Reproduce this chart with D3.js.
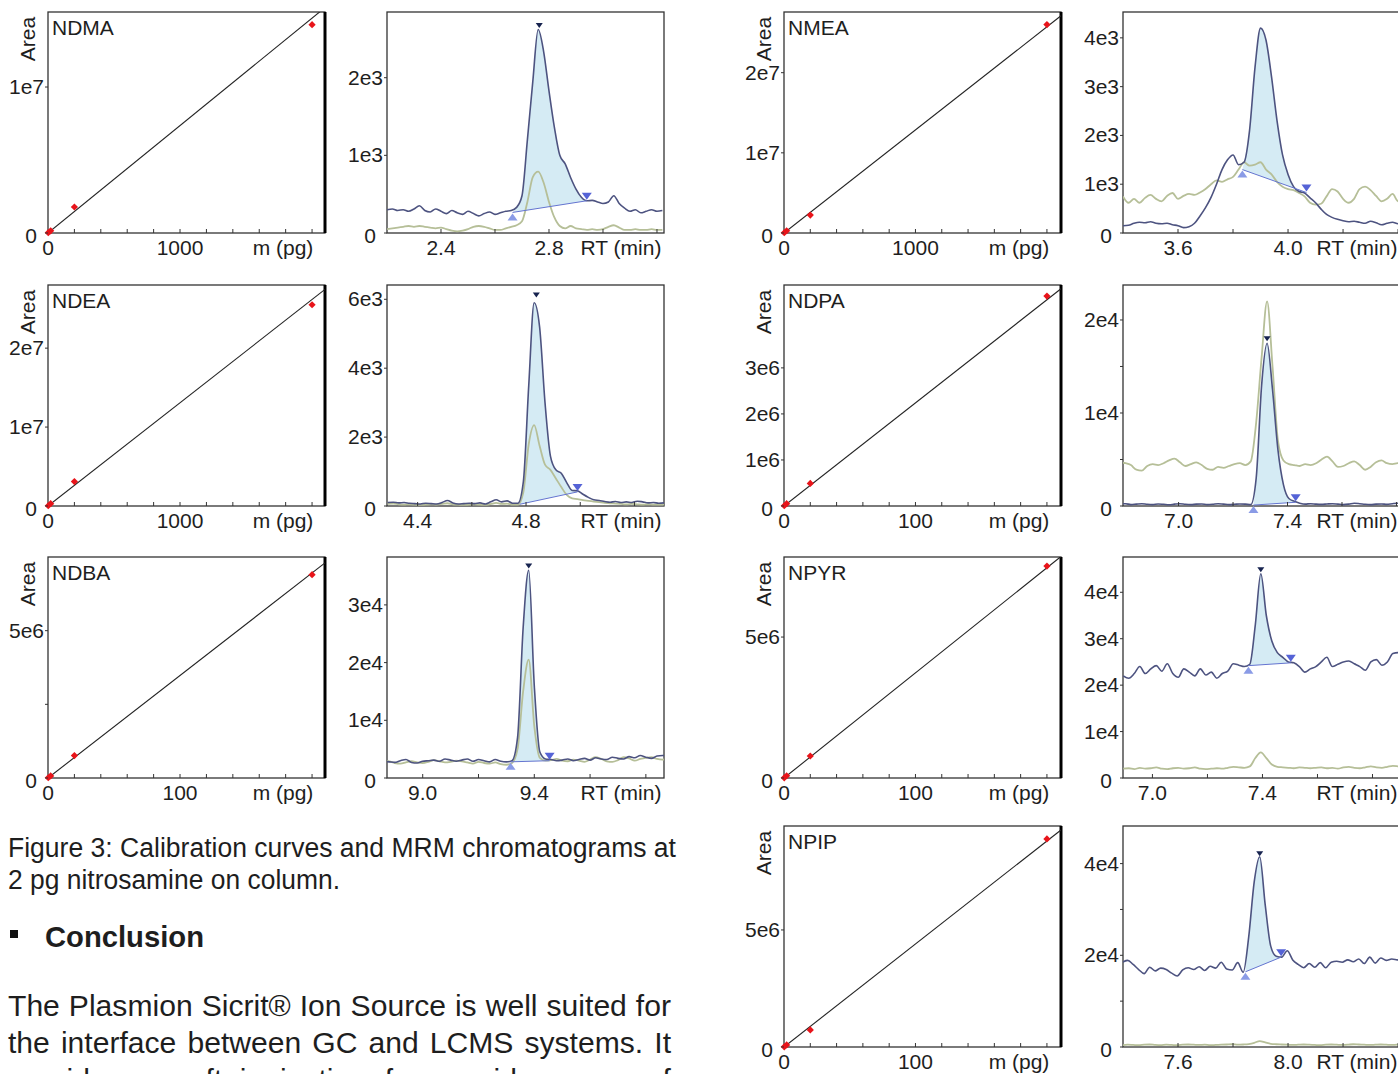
<!DOCTYPE html>
<html>
<head>
<meta charset="utf-8">
<script src="https://cdn.jsdelivr.net/npm/d3@7"></script>
<style>
  body { margin: 0; background: #fff; }
  svg text { font-family: "Liberation Sans", Arial, sans-serif; fill: #1e1e1e; }
</style>
</head>
<body>
<svg id="fig" width="1398" height="1074"></svg>
<script>
// ---- calibration curves ----
var names = ["NDMA", "NDEA", "NDBA", "NMEA", "NDPA", "NPYR", "NPIP"];
var calMass = [[2, 20, 200, 2000], [2, 20, 200, 2000], [0.2, 2, 20, 200], [2, 20, 200, 2000],
               [0.2, 2, 20, 200], [0.2, 2, 20, 200], [0.2, 2, 20, 200]];
var calArea = [[2.5e4, 1.5e5, 1.78e6, 1.427e7], [3e4, 3e5, 3.1e6, 2.55e7], [8e3, 7e4, 7.6e5, 6.9e6],
               [3e4, 2.8e5, 2.24e6, 2.6e7], [5e3, 5e4, 4.9e5, 4.56e6], [8e3, 8e4, 7.8e5, 7.52e6],
               [9e3, 9e4, 7.3e5, 8.89e6]];
var fitSlope = [7360, 13080, 34790, 12860, 22400, 37300, 44000];
var calXMax = [2098, 2098, 209.8, 2107, 210.7, 210.7, 210.7];
var calXStep = [200, 200, 20, 200, 20, 20, 20];
var calXLabels = [[0, 1000], [0, 1000], [0, 100], [0, 1000], [0, 100], [0, 100], [0, 100]];
var calYMax = [1.514e7, 2.80e7, 7.50e6, 2.757e7, 4.8e6, 7.84e6, 9.44e6];
var calYTicks = [[0, 1e7], [0, 1e7, 2e7], [0, 5e6], [0, 1e7, 2e7], [0, 1e6, 2e6, 3e6], [0, 5e6], [0, 5e6]];
var calYMinor = [[], [], [2.5e6], [], [], [], []];

// ---- MRM chromatograms ----
var rtStart = [2.2, 4.287, 8.872, 3.4, 6.796, 6.893, 7.4];
var rtEnd = [3.226, 5.309, 9.865, 4.407, 7.813, 7.9, 8.407];
var rtLabels = [[2.4, 2.8], [4.4, 4.8], [9.0, 9.4], [3.6, 4.0], [7.0, 7.4], [7.0, 7.4], [7.6, 8.0]];
var rtMinor = [[2.6, 3.0, 3.2], [4.6, 5.0, 5.2], [9.2, 9.6, 9.8], [3.8, 4.2, 4.4],
               [7.2, 7.6, 7.8], [7.2, 7.6, 7.8], [7.8, 8.2, 8.4]];
var chromYMax = [2846, 6415, 38300, 4530, 23760, 47600, 48200];
var chromYTicks = [[0, 1e3, 2e3], [0, 2e3, 4e3, 6e3], [0, 1e4, 2e4, 3e4], [0, 1e3, 2e3, 3e3, 4e3],
                   [0, 1e4, 2e4], [0, 1e4, 2e4, 3e4, 4e4], [0, 2e4, 4e4]];
var chromYMinor = [[], [], [], [], [5e3, 1.5e4], [], [1e4, 3e4]];

// sampling of the traces: first retention time, 0.02 min apart
var sampleT0 = [2.20, 4.29, 8.86, 3.40, 6.785, 6.894, 7.397];
var sampleStep = 0.02;

// quantifier transition (dark blue trace)
var quantTrace = [
  [300,310,290,300,280,310,350,290,270,310,280,250,290,260,240,280,250,220,250,270,240,260,280,290,330,480,1200,1950,2620,2340,1830,1360,1000,890,715,565,460,415,420,400,380,400,480,380,320,280,300,260,280,300,280,290],
  [100,110,90,100,80,70,60,80,70,60,100,160,90,60,70,80,70,90,60,120,180,120,150,80,80,700,3500,5900,5200,3000,1450,1050,950,680,450,440,340,250,180,160,130,110,130,100,120,100,140,120,90,100,80,90],
  [2900,2800,2700,3000,3200,2700,2600,2900,3000,3100,2900,3300,3100,2900,3100,3300,2900,3200,3000,2800,3200,2900,2800,3000,7000,26000,36000,16000,4500,3300,3200,3000,3100,3300,3000,3200,3400,3100,3500,3300,3200,3600,3400,3300,3700,3500,3900,3600,3400,3800,3900,3700],
  [150,160,200,220,210,230,200,190,200,170,150,110,130,200,350,520,730,1000,1300,1500,1600,1400,1450,2100,3400,4200,3950,3200,2300,1600,1200,950,850,820,720,620,490,380,320,280,250,230,240,220,200,240,210,170,200,220,190,200],
  [200,250,150,200,250,180,150,220,180,130,200,250,180,150,200,220,150,180,250,200,150,180,220,200,150,3000,13000,17500,12500,6000,2300,800,500,300,200,250,200,180,220,250,200,150,200,300,250,180,150,200,220,180,250,300,250],
  [22000,21500,22500,24000,22500,23500,24200,23000,24600,22500,21700,23500,22800,22000,23500,22200,22800,21500,22500,23000,24600,24300,24000,24500,33000,44000,35000,29500,27000,26000,25000,24800,24000,22800,23500,24000,25000,26000,24000,24500,25000,25200,24600,24000,23200,25000,25500,24300,25000,26800,27000,26000],
  [18500,18900,18000,16900,16000,17400,16600,17200,16900,16100,15500,16800,17300,16900,17500,16700,17600,17200,18500,17000,16800,18400,16300,24000,36000,41500,31000,22000,19800,19600,21000,19000,18000,17300,18200,17400,18400,17300,18500,18700,18500,19000,18600,19200,18200,19600,18300,19400,18900,19200,19000,18900]
];

// qualifier transition (pale green trace)
var qualTrace = [
  [50,60,70,80,90,80,90,80,70,60,70,50,30,20,30,50,80,90,80,60,40,40,60,80,100,150,400,720,790,650,400,200,90,60,90,60,50,40,50,40,50,80,100,70,40,40,50,40,40,50,40,40],
  [60,70,50,40,50,40,30,40,50,40,60,80,50,40,30,40,50,40,30,60,90,60,70,40,40,400,1800,2350,1750,1200,1050,800,550,320,220,200,170,150,130,110,90,80,70,60,50,60,50,40,50,40,40,40],
  [3000,2900,2600,2500,2700,2900,2700,2600,2800,3100,2900,2700,2800,3000,2900,2700,2500,2800,2600,2500,2700,2400,2300,2600,5000,15000,20500,9000,3500,3000,3100,3300,3000,2900,3200,3000,2800,3200,3600,3300,2900,2800,3100,3600,3400,3000,3300,3500,3600,3300,3200,3300],
  [750,620,700,620,720,780,700,650,760,820,700,760,800,780,830,900,1000,1080,1050,1100,1150,1300,1450,1380,1400,1450,1300,1200,1050,950,900,880,820,750,620,580,600,750,900,850,700,620,700,900,950,880,760,650,700,800,650,700],
  [4700,4600,4400,3900,3800,4300,4500,4400,4600,4900,5100,4700,4300,4500,4700,4400,4000,3900,4200,4100,4300,4500,4600,4400,4800,9000,16000,22000,15000,7000,4900,4500,4400,4300,4500,4400,4600,5000,5300,4800,4200,4300,4600,4800,4400,3900,4200,4700,4900,4600,4500,4600,4500],
  [2000,2100,1900,2200,2000,2100,2300,2000,1900,2100,2200,2000,2100,2300,2000,1900,2000,2100,2000,2200,2400,2300,2200,2500,4300,5500,4300,2900,2400,2300,2200,2100,2300,2200,2100,2200,2300,2100,2200,2000,2300,2400,2200,2100,2300,2500,2300,2200,2400,2600,2500,2400],
  [400,500,450,400,500,550,450,400,500,450,400,500,550,500,450,500,400,450,500,550,600,500,550,650,900,1300,1000,700,600,550,500,450,500,550,500,450,400,500,550,500,450,500,600,550,500,450,500,550,500,450,500,500]
];

// peak integration: [RT, intensity] of baseline start / end, and the apex
var integStart = [[2.665, 265], [4.777, 50], [9.315, 2800], [3.834, 1300], [7.275, 100], [7.349, 24200], [7.845, 16400]];
var integEnd = [[2.94, 415], [4.99, 410], [9.455, 3000], [4.067, 830], [7.43, 400], [7.503, 24800], [7.975, 19600]];
var apexMark = [[2.764, 2640], [4.838, 6050], [9.38, 36300], null, [7.325, 17700], [7.394, 44300], [7.897, 41600]];
var showStart = [true, false, true, true, true, true, true];

// ---- layout ----
var svg = d3.select("#fig");
var colX = [0, 736];
var rowTop = [12, 285, 557, 826];
var cellCol = [0, 0, 0, 1, 1, 1, 1];
var cellRow = [0, 1, 2, 0, 1, 2, 3];
var boxW = 277, boxH = 221;
var calLeft = 48, chromLeft = 387;
var FS = 21;

function fmt(v) {
  if (v === 0) return "0";
  return d3.format(".0e")(v).replace("+", "");
}

function frame(g, id, thickRight) {
  g.append("clipPath").attr("id", id)
    .append("rect").attr("width", boxW).attr("height", boxH);
  g.append("rect")
    .attr("width", boxW).attr("height", boxH)
    .attr("fill", "none").attr("stroke", "#333").attr("stroke-width", 1.3);
  if (thickRight) {
    g.append("line")
      .attr("x1", boxW).attr("x2", boxW).attr("y1", 0).attr("y2", boxH)
      .attr("stroke", "#000").attr("stroke-width", 3);
  }
}

function yTicks(g, y, major, minor) {
  g.selectAll(".ytk").data(major.concat(minor)).enter().append("line")
    .attr("x1", -3).attr("x2", 0)
    .attr("y1", function(d) { return y(d); }).attr("y2", function(d) { return y(d); })
    .attr("stroke", "#333").attr("stroke-width", 1);
  // the zero label sits a little lower and further left, clear of the x axis "0"
  g.selectAll(".ylab").data(major).enter().append("text")
    .attr("x", function(d) { return d === 0 ? -11 : -4; })
    .attr("y", function(d) { return y(d) + (d === 0 ? 10 : 7); })
    .attr("text-anchor", "end").attr("font-size", FS)
    .text(fmt);
}

function xTicks(g, x, ticks) {
  g.selectAll(".xtk").data(ticks).enter().append("line")
    .attr("x1", function(d) { return x(d); }).attr("x2", function(d) { return x(d); })
    .attr("y1", boxH).attr("y2", boxH - 4)
    .attr("stroke", "#333").attr("stroke-width", 1);
}

function drawCal(i) {
  var g = svg.append("g")
    .attr("transform", "translate(" + (colX[cellCol[i]] + calLeft) + "," + rowTop[cellRow[i]] + ")");
  var x = d3.scaleLinear().domain([0, calXMax[i]]).range([0, boxW]);
  var y = d3.scaleLinear().domain([0, calYMax[i]]).range([boxH, 0]);
  var cid = "calclip" + i;
  frame(g, cid, true);

  // regression line
  g.append("line")
    .attr("clip-path", "url(#" + cid + ")")
    .attr("x1", x(0)).attr("y1", y(0))
    .attr("x2", x(calXMax[i])).attr("y2", y(fitSlope[i] * calXMax[i]))
    .attr("stroke", "#222").attr("stroke-width", 1.1);

  var pts = calMass[i].map(function(m, k) { return [m, calArea[i][k]]; });
  g.selectAll(".pt").data(pts).enter().append("path")
    .attr("d", d3.symbol(d3.symbolSquare).size(26))
    .attr("transform", function(d) { return "translate(" + x(d[0]) + "," + y(d[1]) + ") rotate(45)"; })
    .attr("fill", "#e8141a");

  yTicks(g, y, calYTicks[i], calYMinor[i]);
  xTicks(g, x, d3.range(calXStep[i], calXMax[i], calXStep[i]));
  g.selectAll(".xlab").data(calXLabels[i]).enter().append("text")
    .attr("x", function(d) { return x(d); }).attr("y", boxH + 22)
    .attr("text-anchor", "middle").attr("font-size", FS)
    .text(function(d) { return d; });
  g.append("text")
    .attr("x", boxW - 42).attr("y", boxH + 22)
    .attr("text-anchor", "middle").attr("font-size", FS)
    .text("m (pg)");
  g.append("text")
    .attr("transform", "translate(-13,27) rotate(-90)")
    .attr("text-anchor", "middle").attr("font-size", FS)
    .text("Area");
  g.append("text")
    .attr("x", 4).attr("y", 23)
    .attr("font-size", FS)
    .text(names[i]);
}

function drawChrom(i) {
  var g = svg.append("g")
    .attr("transform", "translate(" + (colX[cellCol[i]] + chromLeft) + "," + rowTop[cellRow[i]] + ")");
  var x = d3.scaleLinear().domain([rtStart[i], rtEnd[i]]).range([0, boxW]);
  var y = d3.scaleLinear().domain([0, chromYMax[i]]).range([boxH, 0]);
  var cid = "chclip" + i;
  frame(g, cid, false);

  function series(arr) {
    return arr.map(function(v, k) { return [sampleT0[i] + k * sampleStep, v]; });
  }
  var quant = series(quantTrace[i]);
  var qual = series(qualTrace[i]);
  var line = d3.line().curve(d3.curveMonotoneX)
    .x(function(d) { return x(d[0]); })
    .y(function(d) { return y(d[1]); });

  var s = integStart[i], e = integEnd[i];
  function base(t) { return s[1] + (e[1] - s[1]) * (t - s[0]) / (e[0] - s[0]); }
  var peakPts = [s].concat(quant.filter(function(d) { return d[0] > s[0] && d[0] < e[0]; })).concat([e]);
  var area = d3.area().curve(d3.curveMonotoneX)
    .x(function(d) { return x(d[0]); })
    .y0(function(d) { return y(base(d[0])); })
    .y1(function(d) { return y(d[1]); });

  var plot = g.append("g").attr("clip-path", "url(#" + cid + ")");
  plot.append("path").datum(peakPts).attr("d", area).attr("fill", "#d5ebf4");
  plot.append("path").datum(qual).attr("d", line)
    .attr("fill", "none").attr("stroke", "#b6bf98").attr("stroke-width", 1.8);
  plot.append("path").datum(quant).attr("d", line)
    .attr("fill", "none").attr("stroke", "#4d5380").attr("stroke-width", 1.6);
  plot.append("line")
    .attr("x1", x(s[0])).attr("y1", y(s[1])).attr("x2", x(e[0])).attr("y2", y(e[1]))
    .attr("stroke", "#6474d0").attr("stroke-width", 1);

  // integration markers
  if (showStart[i]) {
    g.append("path")
      .attr("d", "M0,0 L5,7 L-5,7 Z")
      .attr("transform", "translate(" + x(s[0]) + "," + (y(s[1]) + 1) + ")")
      .attr("fill", "#8a9be6");
  }
  g.append("path")
    .attr("d", "M0,0 L5,-7 L-5,-7 Z")
    .attr("transform", "translate(" + x(e[0]) + "," + (y(e[1]) - 1) + ")")
    .attr("fill", "#5563d6");
  if (apexMark[i]) {
    g.append("path")
      .attr("d", "M0,0 L3.5,-5 L-3.5,-5 Z")
      .attr("transform", "translate(" + x(apexMark[i][0]) + "," + y(apexMark[i][1]) + ")")
      .attr("fill", "#17234f");
  }

  yTicks(g, y, chromYTicks[i], chromYMinor[i]);
  xTicks(g, x, rtLabels[i].concat(rtMinor[i]).filter(function(t) { return t < rtEnd[i]; }));
  g.selectAll(".xlab").data(rtLabels[i]).enter().append("text")
    .attr("x", function(d) { return x(d); }).attr("y", boxH + 22)
    .attr("text-anchor", "middle").attr("font-size", FS)
    .text(function(d) { return d.toFixed(1); });
  g.append("text")
    .attr("x", boxW - 43).attr("y", boxH + 22)
    .attr("text-anchor", "middle").attr("font-size", FS)
    .text("RT (min)");
}

for (var i = 0; i < names.length; i++) {
  drawCal(i);
  drawChrom(i);
}

// ---- text under the left column (condensed face, imitated by squeezing) ----
function fitLine(str, x0, x1, yb, size, weight) {
  svg.append("text")
    .attr("x", x0).attr("y", yb)
    .attr("font-size", size).attr("font-weight", weight || "normal")
    .attr("textLength", x1 - x0).attr("lengthAdjust", "spacingAndGlyphs")
    .text(str);
}

var paraLines = [
  "The Plasmion Sicrit\u00ae Ion Source is well suited for",
  "the interface between GC and LCMS systems. It",
  "provides a soft ionization for a wide range of"
];
var paraX0 = 8, paraX1 = 671, paraSize = 30, firstGap = 9;
var squeeze = null;

function justify(str, yb) {
  var words = str.split(" ");
  var nodes = words.map(function(w) {
    return svg.append("text").attr("y", yb).attr("font-size", paraSize).text(w);
  });
  var widths = nodes.map(function(n) { return n.node().getComputedTextLength(); });
  if (squeeze === null) {
    squeeze = (paraX1 - paraX0 - firstGap * (words.length - 1)) / d3.sum(widths);
  }
  widths = widths.map(function(w) { return w * squeeze; });
  var gap = (paraX1 - paraX0 - d3.sum(widths)) / (words.length - 1);
  var cx = paraX0;
  nodes.forEach(function(n, k) {
    n.attr("x", cx).attr("textLength", widths[k]).attr("lengthAdjust", "spacingAndGlyphs");
    cx += widths[k] + gap;
  });
}

fitLine("Figure 3: Calibration curves and MRM chromatograms at", 8, 676, 857, 27);
fitLine("2 pg nitrosamine on column.", 8, 340, 889, 27);
svg.append("rect").attr("x", 10).attr("y", 930).attr("width", 8).attr("height", 8).attr("fill", "#111");
fitLine("Conclusion", 45, 204, 947, 30, "bold");
paraLines.forEach(function(t, k) { justify(t, 1016 + 37 * k); });
</script>
</body>
</html>
